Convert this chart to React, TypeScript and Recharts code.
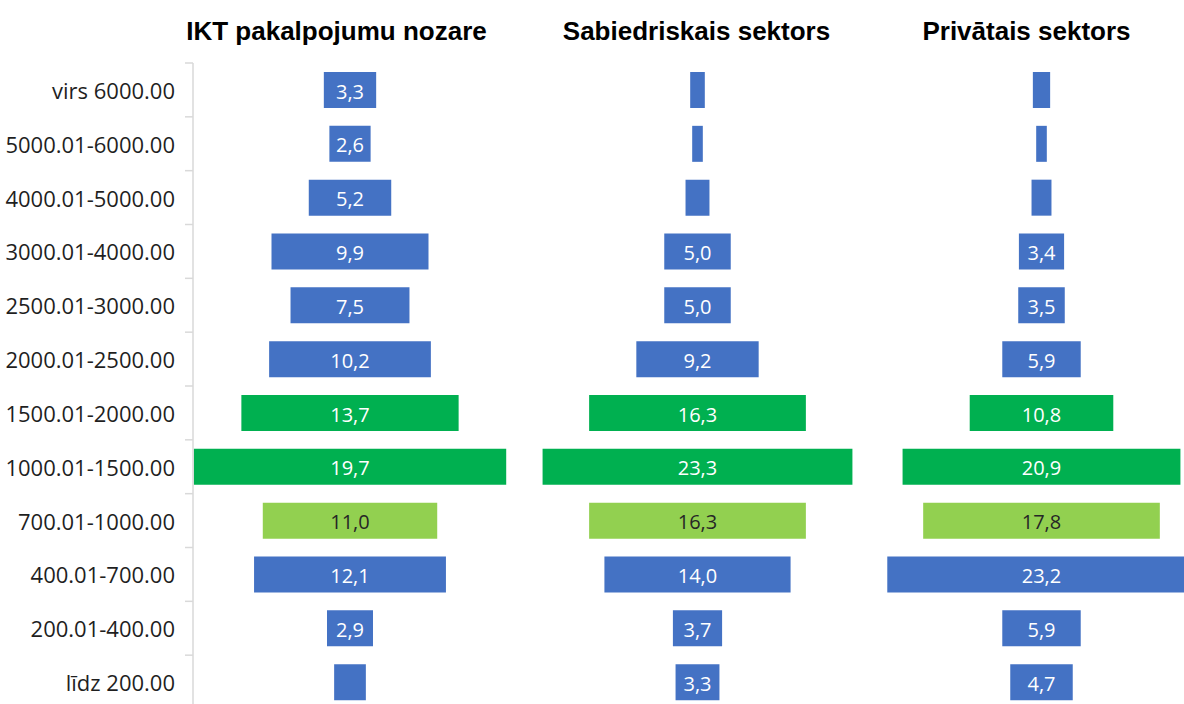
import React from 'react';
import { BarChart, Bar, XAxis, YAxis, Cell, LabelList } from 'recharts';

const categories = [
  'virs 6000.00',
  '5000.01-6000.00',
  '4000.01-5000.00',
  '3000.01-4000.00',
  '2500.01-3000.00',
  '2000.01-2500.00',
  '1500.01-2000.00',
  '1000.01-1500.00',
  '700.01-1000.00',
  '400.01-700.00',
  '200.01-400.00',
  'līdz 200.00',
];
const groups = ['other', 'other', 'other', 'other', 'other', 'other', 'main', 'main', 'secondary', 'other', 'other', 'other'];
const iktValues = [3.3, 2.6, 5.2, 9.9, 7.5, 10.2, 13.7, 19.7, 11.0, 12.1, 2.9, 2.0];
const publicValues = [1.1, 0.8, 1.8, 5.0, 5.0, 9.2, 16.3, 23.3, 16.3, 14.0, 3.7, 3.3];
const privateValues = [1.3, 0.8, 1.5, 3.4, 3.5, 5.9, 10.8, 20.9, 17.8, 23.2, 5.9, 4.7];
const titles = ['IKT pakalpojumu nozare', 'Sabiedriskais sektors', 'Privātais sektors'];
const labelThreshold = 2.5;

const groupColors: Record<string, string> = { other: '#4472C4', main: '#00B050', secondary: '#92D050' };
const groupLabelColors: Record<string, string> = { other: '#FFFFFF', main: '#FFFFFF', secondary: '#262626' };

const CHART_H = 709;
const TOP = 63;
const BAND = (CHART_H - TOP) / categories.length;
const AXIS_W = 193;

const build = (values: number[]) =>
  categories.map((cat, i) => ({ cat, v: values[i], group: groups[i] }));

const CategoryTick = (props: any) => {
  const { y, payload, index } = props;
  const axisX = AXIS_W;
  const top = y - BAND / 2;
  const bottom = y + BAND / 2;
  return (
    <g>
      <line x1={axisX - 8} x2={axisX} y1={top} y2={top} stroke="#D9D9D9" strokeWidth={1.5} />
      {index === categories.length - 1 && (
        <line x1={axisX - 8} x2={axisX} y1={bottom} y2={bottom} stroke="#D9D9D9" strokeWidth={1.5} />
      )}
      <text
        x={axisX - 18}
        y={y}
        textAnchor="end"
        dominantBaseline="central"
        fontFamily="'Open Sans', sans-serif"
        fontSize={22}
        fill="#1F1F1F"
      >
        {payload.value}
      </text>
    </g>
  );
};

const makeLabel = (data: any[]) => (props: any) => {
  const { x, y, width, height, index, value } = props;
  if (value == null || value < labelThreshold) return null;
  const d = data[index];
  return (
    <text
      x={x + width / 2}
      y={y + height / 2 + 1}
      textAnchor="middle"
      dominantBaseline="central"
      fontFamily="'Open Sans', sans-serif"
      fontSize={20}
      fill={groupLabelColors[d.group]}
    >
      {Number(value).toFixed(1).replace('.', ',')}
    </text>
  );
};

type PanelProps = { left: number; width: number; values: number[]; half: number; withAxis: boolean };

const Panel = ({ left, width, values, half, withAxis }: PanelProps) => {
  const data = build(values);
  return (
    <div style={{ position: 'absolute', left, top: 0 }}>
      <BarChart
        width={width}
        height={CHART_H}
        data={data}
        layout="vertical"
        margin={{ top: TOP, right: 0, bottom: 0, left: 0 }}
        barSize={36}
      >
        <XAxis type="number" domain={[-half, half]} hide allowDataOverflow={true} />
        <YAxis
          type="category"
          dataKey="cat"
          width={withAxis ? AXIS_W : 0}
          hide={!withAxis}
          axisLine={withAxis ? { stroke: '#D9D9D9', strokeWidth: 1.5 } : false}
          tickLine={false}
          tickSize={0}
          tickMargin={18}
          tick={withAxis ? <CategoryTick /> : false}
          interval={0}
        />
        <Bar dataKey={(d: any) => [-d.v / 2, d.v / 2]} isAnimationActive={false}>
          {data.map((d, i) => (
            <Cell key={i} fill={groupColors[d.group]} />
          ))}
          <LabelList dataKey="v" content={makeLabel(data)} />
        </Bar>
      </BarChart>
    </div>
  );
};

const titleX = [336.5, 696.5, 1026.5];

export default function App() {
  return (
    <div
      style={{
        position: 'absolute',
        left: 0,
        top: 0,
        width: 1184,
        height: 704,
        overflow: 'hidden',
        background: '#FFFFFF',
      }}
    >
      <Panel left={0} width={507} values={iktValues} half={9.9} withAxis={true} />
      <Panel left={510} width={375} values={publicValues} half={14.1} withAxis={false} />
      <Panel left={870} width={343} values={privateValues} half={12.9} withAxis={false} />
      <svg width={1184} height={60} style={{ position: 'absolute', left: 0, top: 0 }}>
        {titles.map((t, i) => (
          <text
            key={t}
            x={titleX[i]}
            y={40}
            textAnchor="middle"
            fontFamily="'Liberation Sans', Arial, sans-serif"
            fontWeight="bold"
            fontSize={26}
            fill="#000000"
          >
            {t}
          </text>
        ))}
      </svg>
    </div>
  );
}
